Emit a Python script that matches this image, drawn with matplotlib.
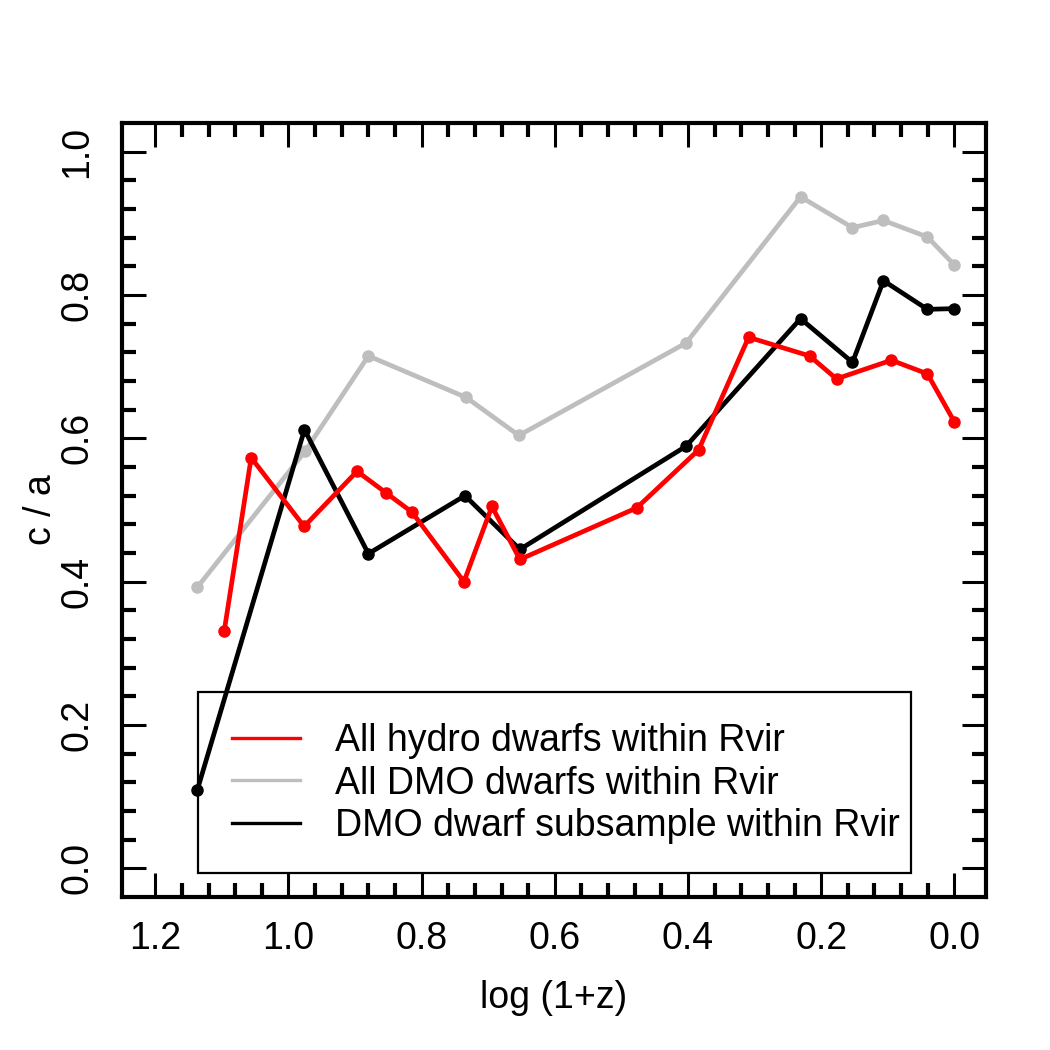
# Shape evolution c/a against log(1+z) for the dwarf samples
import numpy as np
import matplotlib.pyplot as plt
import matplotlib.ticker as ticker
from matplotlib.patches import Rectangle

plt.rcParams['font.family'] = ['Liberation Sans', 'DejaVu Sans']

# All hydro dwarfs within Rvir
hydro_x = [1.0965, 1.056, 0.9765, 0.897, 0.8535, 0.8145, 0.7365, 0.6945, 0.6525,
           0.477, 0.384, 0.309, 0.2175, 0.177, 0.0945, 0.0405, 0.0]
hydro_y = [0.331, 0.573, 0.477, 0.554, 0.524, 0.497, 0.400, 0.505, 0.431,
           0.503, 0.584, 0.741, 0.715, 0.683, 0.709, 0.690, 0.623]

# All DMO dwarfs within Rvir
dmo_x = [1.137, 0.975, 0.880, 0.733, 0.654, 0.403, 0.231, 0.153, 0.1065, 0.0405, 0.0]
dmo_y = [0.392, 0.582, 0.715, 0.657, 0.604, 0.733, 0.937, 0.894, 0.904, 0.881, 0.842]

# DMO dwarf subsample within Rvir
sub_x = [1.137, 0.976, 0.880, 0.735, 0.6525, 0.403, 0.231, 0.153, 0.1065, 0.0405, 0.0]
sub_y = [0.109, 0.612, 0.439, 0.520, 0.445, 0.589, 0.767, 0.706, 0.820, 0.780, 0.781]

labels = ['All hydro dwarfs within Rvir', 'All DMO dwarfs within Rvir',
          'DMO dwarf subsample within Rvir']
colors = ['#ff0000', '#bebebe', '#000000']

fig = plt.figure(figsize=(10.5, 10.5), dpi=100)
ax = fig.add_axes([122 / 1050, 153 / 1050, 864 / 1050, 774 / 1050])

ax.plot(dmo_x, dmo_y, color=colors[1], lw=3.4, marker='o', ms=8, zorder=2)
ax.plot(sub_x, sub_y, color=colors[2], lw=3.4, marker='o', ms=8, zorder=3)
ax.plot(hydro_x, hydro_y, color=colors[0], lw=3.4, marker='o', ms=8, zorder=4)

ax.set_xlim(1.25, -0.0475)
ax.set_ylim(-0.04, 1.04)

ax.xaxis.set_major_locator(ticker.FixedLocator(np.arange(0, 1.21, 0.2)))
ax.xaxis.set_minor_locator(ticker.FixedLocator(np.arange(0, 1.21, 0.04)))
ax.yaxis.set_major_locator(ticker.FixedLocator(np.arange(0, 1.01, 0.2)))
ax.yaxis.set_minor_locator(ticker.FixedLocator(np.arange(0, 1.01, 0.04)))
ax.xaxis.set_major_formatter(ticker.FormatStrFormatter('%.1f'))
ax.yaxis.set_major_formatter(ticker.FormatStrFormatter('%.1f'))

ax.tick_params(which='both', direction='in', top=True, right=True,
               labeltop=False, labelright=False)
ax.tick_params(which='major', length=17, width=2.2, labelsize=27)
ax.tick_params(which='minor', length=10, width=3)
ax.tick_params(axis='x', which='major', pad=17)
ax.tick_params(axis='y', which='major', pad=19, labelrotation=90)
for lab in ax.get_yticklabels():
    lab.set_va('center')
for s in ax.spines.values():
    s.set_linewidth(3)

ax.set_xlabel('log (1+z)', fontsize=27)
ax.set_ylabel('c / a', fontsize=27)
ax.xaxis.set_label_coords(0.5, -0.107)
ax.yaxis.set_label_coords(-0.073, 0.5)

# legend box (no fill, lines show through as in the original)
ax.add_patch(Rectangle((0.088, 0.031), 0.825, 0.2336, transform=ax.transAxes,
                       fill=False, lw=1.6, ec='black', zorder=5))
handles = [plt.Line2D([], [], color=c, lw=2.4) for c in colors]
ax.legend(handles, labels, loc='upper left', bbox_to_anchor=(0.1273, 0.2250),
          frameon=False, fontsize=27, borderpad=0, borderaxespad=0,
          handlelength=1.81, handletextpad=0.93, labelspacing=0.18)

plt.savefig('out.png', dpi=100)
